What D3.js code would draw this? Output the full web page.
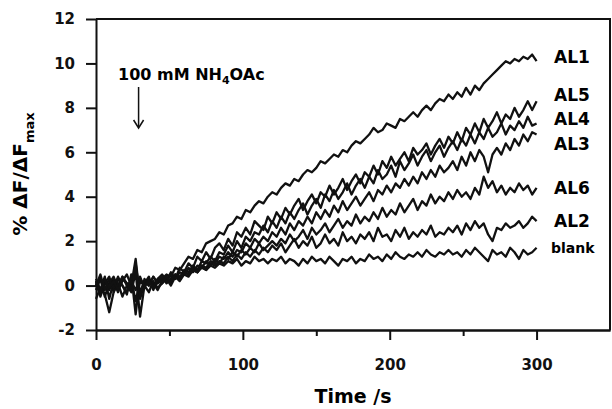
<!DOCTYPE html>
<html>
<head>
<meta charset="utf-8">
<script src="https://cdn.jsdelivr.net/npm/d3@7"></script>
<style>
  html, body { margin: 0; padding: 0; background: #fff; }
  svg { display: block; font-family: "DejaVu Sans", sans-serif; font-weight: bold; }
</style>
</head>
<body>
<div id="chart"></div>
<script>
// sample times (s), every 3 s
const times = [0,3,6,9,12,15,18,21,24,27,30,
  33,36,39,42,45,48,51,54,57,60,
  63,66,69,72,75,78,81,84,87,90,93,96,99,102,105,108,111,114,117,120,
  123,126,129,132,135,138,141,144,147,150,153,156,159,162,165,168,171,174,177,180,
  183,186,189,192,195,198,201,204,207,210,213,216,219,222,225,228,231,234,237,240,
  243,246,249,252,255,258,261,264,267,270,273,276,279,282,285,288,291,294,297,300];

// % dF/dFmax
const al1 = [0.1,-0.4,0.2,-0.2,0.3,0.0,0.4,0.1,-0.1,0.8,-0.3,
  0.2,0.0,0.4,0.1,0.3,0.5,0.4,0.8,0.7,1.0,
  1.3,1.2,1.6,1.5,1.9,2.0,2.1,2.4,2.3,2.7,2.8,3.1,3.0,3.4,3.3,3.6,3.8,3.7,4.0,4.2,
  4.1,4.4,4.6,4.5,4.8,4.7,5.0,5.2,5.1,5.3,5.6,5.5,5.7,5.9,5.8,6.1,6.0,6.3,6.5,6.4,
  6.6,6.8,7.1,6.9,7.0,7.3,7.2,7.1,7.5,7.4,7.6,7.8,7.6,7.9,8.1,7.9,8.2,8.4,8.3,8.6,
  8.4,8.7,8.5,8.9,8.6,9.0,8.8,9.1,9.3,9.5,9.7,9.9,10.1,10.0,10.2,10.1,10.3,10.2,10.4,10.1];
const al5 = [-0.2,0.3,-0.5,0.1,0.4,-0.1,0.2,0.5,0.0,1.2,-0.6,
  0.1,0.4,-0.2,0.3,0.5,0.2,0.6,0.3,0.8,0.6,
  1.0,0.8,1.3,1.1,1.5,1.2,1.7,1.9,1.6,2.1,1.8,2.4,2.2,2.6,2.3,2.9,2.7,2.5,3.1,2.8,
  3.3,3.0,3.5,3.2,3.6,3.9,3.4,3.8,4.1,3.7,4.2,4.0,4.5,4.1,4.4,4.8,4.3,4.7,5.0,4.6,
  5.1,4.9,5.4,5.0,5.6,5.3,5.8,5.4,5.7,6.0,5.6,6.2,5.9,6.1,6.4,5.9,6.3,6.6,6.2,6.7,
  6.4,6.9,6.5,7.1,6.8,7.3,6.9,7.5,7.1,7.4,7.8,7.3,7.7,7.5,8.0,7.6,7.9,8.3,7.9,8.3];
const al4 = [0.2,-0.5,0.1,0.4,-0.3,0.3,0.0,-0.4,0.5,-1.3,0.4,
  -0.1,0.3,0.1,-0.2,0.2,0.4,0.1,0.5,0.3,0.7,
  0.6,0.9,0.7,1.1,1.0,1.3,1.1,1.5,1.4,1.8,1.5,2.0,1.7,2.2,2.0,2.4,2.3,2.7,2.4,2.9,
  2.6,3.1,2.8,3.3,3.0,3.4,3.7,3.2,3.6,3.9,3.5,4.1,3.8,4.3,3.9,4.2,4.6,4.1,4.5,4.8,
  4.4,4.9,4.6,5.2,4.8,5.0,5.4,4.9,5.6,5.2,5.5,5.9,5.4,5.8,6.1,5.6,6.0,6.3,5.8,6.2,
  6.5,6.1,6.6,6.3,6.8,6.4,6.9,6.6,7.1,6.7,6.9,7.3,6.8,7.2,7.0,7.4,7.1,7.6,7.2,7.3];
const al3 = [-0.6,-0.1,-0.4,-1.2,-0.3,0.1,-0.5,0.0,-0.3,0.6,-1.4,
  0.0,-0.3,0.2,-0.1,0.1,0.3,0.0,0.4,0.2,0.5,
  0.4,0.7,0.6,0.9,0.8,1.1,1.0,1.3,1.2,1.5,1.3,1.6,1.5,1.9,1.7,2.1,1.9,2.2,2.0,2.4,
  2.2,2.6,2.3,2.8,2.5,2.9,2.7,3.1,2.8,3.3,3.0,3.4,3.1,3.6,3.3,3.8,3.4,3.7,4.0,3.6,
  3.9,4.2,3.8,4.3,4.1,4.5,4.2,4.6,4.4,4.8,4.5,4.9,4.6,5.1,4.8,5.2,4.9,5.4,5.1,5.3,
  5.6,5.2,5.8,5.4,6.0,5.6,6.1,5.8,5.1,5.9,6.2,5.9,6.4,6.1,6.6,6.3,6.8,6.5,6.9,6.8];
const al6 = [0.3,-0.2,0.4,-0.6,0.2,-0.3,0.3,0.1,-0.2,1.0,-0.5,
  0.3,0.0,0.4,0.1,0.3,0.2,0.5,0.3,0.6,0.5,
  0.8,0.6,0.9,0.8,1.1,0.9,1.2,1.0,1.3,1.2,1.5,1.3,1.6,1.4,1.7,1.5,1.9,1.6,1.8,2.0,
  1.8,2.1,1.9,2.3,2.0,2.2,2.5,2.1,2.6,2.3,2.5,2.8,2.4,2.7,3.0,2.6,2.9,2.7,3.2,2.8,
  3.1,2.9,3.3,3.0,3.5,3.1,3.4,3.2,3.7,3.3,3.6,3.9,3.4,3.8,3.6,4.1,3.7,4.0,3.8,4.2,
  3.9,4.3,4.0,4.2,3.9,4.4,4.1,4.9,4.4,4.7,4.2,4.5,4.1,4.4,4.2,4.6,4.3,4.5,4.1,4.4];
const al2 = [0.0,0.5,-0.2,0.3,-0.1,0.4,0.0,-0.3,0.3,-0.7,0.2,
  0.0,0.3,-0.1,0.2,0.4,0.1,0.3,0.5,0.4,0.6,
  0.5,0.8,0.6,0.9,0.7,1.0,0.9,1.1,1.0,1.3,1.1,1.4,1.2,1.5,1.3,1.6,1.4,1.7,1.5,1.8,
  1.6,1.9,1.5,1.8,2.1,1.7,2.0,1.8,2.2,1.7,1.9,2.3,1.9,2.1,1.8,2.4,2.0,2.2,1.9,2.3,
  2.1,2.4,2.0,2.6,2.2,2.3,2.0,2.5,2.2,2.6,2.1,2.4,2.2,2.5,2.3,2.7,2.2,2.4,2.3,2.6,
  2.4,2.7,2.3,2.8,2.5,2.9,2.6,2.8,2.3,2.0,2.6,2.5,2.8,2.6,2.7,2.9,2.6,2.8,3.1,2.9];
const blank = [0.2,-0.3,0.3,-0.1,0.2,-0.2,0.4,0.0,0.2,-0.2,0.3,
  0.0,0.2,-0.1,0.3,0.1,0.4,0.2,0.5,0.4,0.6,
  0.5,0.7,0.6,0.8,0.7,0.9,0.8,1.0,0.9,1.1,1.0,1.2,0.9,1.1,1.0,1.3,1.1,1.2,1.0,1.2,
  1.1,1.3,1.0,1.2,1.1,0.9,1.2,1.0,1.3,1.1,1.2,1.0,1.3,1.1,0.9,1.2,1.1,1.3,1.0,1.2,
  1.1,1.4,1.2,1.3,1.1,1.4,1.2,1.5,1.3,1.2,1.4,1.3,1.5,1.3,1.6,1.4,1.3,1.5,1.4,1.6,
  1.4,1.5,1.3,1.6,1.4,1.7,1.5,1.3,1.1,1.6,1.4,1.5,1.3,1.7,1.5,1.2,1.6,1.4,1.5,1.7];

const seriesNames = ["AL1", "AL5", "AL4", "AL3", "AL6", "AL2", "blank"];
const seriesValues = [al1, al5, al4, al3, al6, al2, blank];
// vertical centre of each label, data units
const labelY = [10.3, 8.6, 7.5, 6.4, 4.4, 2.9, 1.7];

const xTicks = [0, 100, 200, 300];
const xMinor = [50, 150, 250];
const yTicks = [-2, 0, 2, 4, 6, 8, 10, 12];

const W = 612, H = 409;
const m = { left: 96, right: 2, top: 19, bottom: 79 };

const svg = d3.select("#chart").append("svg")
  .attr("width", W).attr("height", H);

const x = d3.scaleLinear().domain([0, 350]).range([m.left, W - m.right]);
const y = d3.scaleLinear().domain([-2, 12]).range([H - m.bottom, m.top]);

/* ── traces ── */
const line = d3.line().x(d => x(d[0])).y(d => y(d[1]));
seriesValues.forEach(vals => {
  svg.append("path")
    .datum(times.map((t, i) => [t, vals[i]]))
    .attr("fill", "none")
    .attr("stroke", "#111")
    .attr("stroke-width", 2.3)
    .attr("stroke-linejoin", "round")
    .attr("d", line);
});

/* ── axes ── */
const fmt = d => String(d);
svg.append("g")
  .attr("transform", `translate(0,${y(-2)})`)
  .call(d3.axisBottom(x).tickValues(xTicks).tickFormat(fmt).tickSize(10).tickPadding(19).tickSizeOuter(0));
svg.append("g")
  .attr("transform", `translate(0,${y(-2)})`)
  .call(d3.axisBottom(x).tickValues(xMinor).tickSize(6).tickFormat("").tickSizeOuter(0));
svg.append("g")
  .attr("transform", `translate(${x(0)},0)`)
  .call(d3.axisLeft(y).tickValues(yTicks).tickFormat(fmt).tickSize(10).tickPadding(11).tickSizeOuter(0));

svg.selectAll(".domain, .tick line").attr("stroke", "#111").attr("stroke-width", 2);
svg.selectAll(".tick text")
  .attr("fill", "#111")
  .style("font-size", "15px")
  .style("font-weight", "bold")
  .style("font-family", "'DejaVu Sans', sans-serif");

// top and right frame
svg.append("path")
  .attr("d", `M${x(0)},${y(12)}H${x(350)}V${y(-2)}`)
  .attr("fill", "none").attr("stroke", "#111").attr("stroke-width", 2);

/* ── axis titles ── */
svg.append("text")
  .attr("x", 353).attr("y", 403)
  .attr("text-anchor", "middle")
  .style("font-size", "19px")
  .text("Time /s");

const yt = svg.append("text")
  .attr("transform", `translate(27,174) rotate(-90)`)
  .attr("text-anchor", "middle")
  .style("font-size", "20px");
yt.append("tspan").text("% ΔF/ΔF");
yt.append("tspan").attr("dy", 7).style("font-size", "13px").text("max");

/* ── annotation ── */
const ann = svg.append("text")
  .attr("x", 118).attr("y", 80)
  .style("font-size", "16px");
ann.append("tspan").text("100 mM NH");
ann.append("tspan").attr("dy", 4).style("font-size", "11px").text("4");
ann.append("tspan").attr("dy", -4).text("OAc");

const ax = x(29);
svg.append("line")
  .attr("x1", ax).attr("x2", ax).attr("y1", 87).attr("y2", 127)
  .attr("stroke", "#111").attr("stroke-width", 1.5);
svg.append("path")
  .attr("d", `M${ax - 5},${120}L${ax},${128}L${ax + 5},${120}`)
  .attr("fill", "none").attr("stroke", "#111").attr("stroke-width", 1.5);

/* ── series labels ── */
seriesNames.forEach((name, i) => {
  svg.append("text")
    .attr("x", name === "blank" ? 551 : 554)
    .attr("y", y(labelY[i]))
    .attr("dy", "0.36em")
    .style("font-size", name === "blank" ? "14px" : "17px")
    .text(name);
});
</script>
</body>
</html>
